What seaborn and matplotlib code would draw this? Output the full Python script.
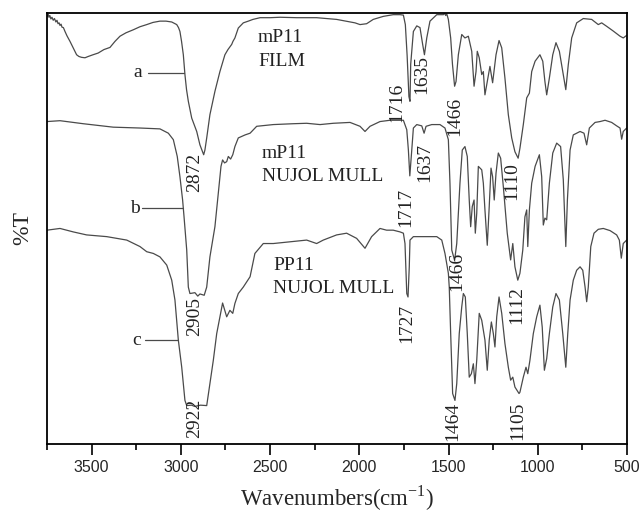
import numpy as np
import pandas as pd
import matplotlib
matplotlib.use("Agg")
import matplotlib.pyplot as plt
import seaborn as sns
from matplotlib.ticker import MultipleLocator

# ---- spectra: wavenumber (cm-1) and %T (offset traces) ----
wn_a = [3748, 3743, 3739, 3734, 3728, 3722, 3715, 3708, 3700, 3694, 3688, 3682, 3677, 3671,
        3666, 3658, 3649, 3638, 3621, 3604, 3584, 3571, 3556, 3537, 3519, 3492, 3463, 3431,
        3397, 3369, 3341, 3307, 3266, 3229, 3191, 3156, 3117, 3083, 3051, 3023, 3013, 3005,
        2996, 2986, 2977, 2968, 2958, 2939, 2911, 2893, 2872, 2865, 2855, 2837, 2809, 2781,
        2753, 2736, 2715, 2708, 2697, 2678, 2650, 2622, 2596, 2556, 2500, 2444, 2351, 2239,
        2127, 2052, 2024, 1996, 1959, 1922, 1866, 1810, 1772, 1753, 1742, 1732, 1722, 1716,
        1712, 1697, 1678, 1660, 1645, 1635, 1622, 1604, 1566, 1528, 1522, 1516, 1510, 1501,
        1488, 1478, 1466, 1458, 1445, 1426, 1408, 1389, 1370, 1357, 1346, 1339, 1328, 1314,
        1305, 1296, 1283, 1268, 1253, 1234, 1217, 1202, 1184, 1165, 1146, 1128, 1110, 1100,
        1081, 1062, 1047, 1034, 1015, 988, 972, 960, 950, 935, 916, 898, 879, 860, 843, 829,
        810, 782, 745, 698, 661, 642, 614, 577, 539, 521, 502]
t_a = [99.1, 99.6, 98.9, 99.3, 98.5, 98.9, 98.2, 98.6, 97.8, 98.2, 97.4, 97.6, 97.0, 97.3,
       96.6, 96.5, 95.6, 94.6, 93.3, 91.9, 90.2, 89.8, 89.6, 89.5, 89.8, 90.2, 90.6, 91.4,
       91.9, 93.3, 94.5, 95.3, 96.0, 96.7, 97.2, 97.7, 98.0, 98.0, 97.8, 97.2, 96.5, 95.6,
       93.3, 90.2, 85.6, 82.1, 79.4, 75.5, 72.4, 69.3, 67.0, 68.1, 70.9, 76.3, 81.7, 86.3,
       90.2, 91.4, 92.6, 93.3, 94.1, 96.4, 97.6, 98.0, 98.4, 98.8, 98.8, 98.9, 98.8, 98.8,
       98.4, 97.8, 97.6, 97.2, 97.4, 98.4, 99.1, 99.5, 99.5, 99.4, 97.2, 90.0, 80.5, 79.4,
       88.0, 95.6, 96.9, 96.5, 92.6, 90.2, 94.1, 98.0, 99.5, 99.5, 99.9, 99.3, 99.7, 98.4,
       94.1, 88.0, 82.9, 84.0, 90.2, 94.9, 94.1, 94.5, 91.0, 82.9, 86.3, 91.0, 89.5, 85.6,
       86.3, 80.9, 84.0, 87.5, 83.7, 90.2, 93.5, 91.8, 84.8, 76.3, 70.9, 67.7, 66.2, 68.5,
       74.0, 80.2, 81.3, 86.3, 88.7, 90.2, 88.7, 84.0, 80.9, 84.8, 90.2, 93.0, 91.0, 86.3,
       82.1, 87.9, 94.1, 97.6, 98.6, 98.4, 97.2, 97.6, 96.8, 95.7, 94.5, 94.1, 94.7]

wn_b = [3750, 3677, 3547, 3379, 3229, 3117, 3070, 3042, 3020, 3005, 2990, 2982, 2967, 2958,
        2949, 2921, 2905, 2893, 2869, 2855, 2837, 2809, 2790, 2775, 2766, 2755, 2743, 2734,
        2721, 2709, 2697, 2678, 2640, 2612, 2575, 2482, 2370, 2295, 2220, 2146, 2052, 1996,
        1968, 1940, 1884, 1828, 1753, 1734, 1725, 1717, 1706, 1697, 1678, 1650, 1637, 1626,
        1594, 1548, 1520, 1501, 1492, 1482, 1466, 1454, 1436, 1423, 1408, 1395, 1384, 1376,
        1367, 1357, 1350, 1342, 1333, 1314, 1305, 1296, 1283, 1272, 1262, 1253, 1244, 1234,
        1221, 1208, 1193, 1171, 1152, 1140, 1128, 1112, 1100, 1084, 1072, 1062, 1056, 1047,
        1034, 1015, 991, 978, 969, 960, 950, 935, 916, 894, 872, 857, 843, 834, 819, 801,
        763, 741, 726, 711, 679, 651, 623, 586, 558, 539, 530, 521, 502]
t_b = [74.7, 74.9, 74.2, 73.4, 73.2, 73.0, 72.0, 70.5, 66.6, 61.9, 56.5, 52.6, 44.9, 36.3,
       34.8, 35.0, 34.2, 34.7, 34.4, 36.3, 43.3, 50.3, 58.1, 64.3, 65.8, 65.1, 65.4, 66.6,
       66.0, 67.0, 68.9, 70.9, 71.6, 72.0, 73.6, 74.0, 74.2, 74.3, 74.0, 74.3, 74.5, 73.6,
       72.4, 73.6, 74.7, 75.0, 75.0, 72.8, 68.1, 62.1, 68.1, 73.2, 74.0, 73.7, 72.0, 73.6,
       74.0, 74.0, 73.2, 70.5, 60.4, 44.9, 42.5, 46.4, 60.4, 68.1, 68.9, 66.6, 56.5, 50.3,
       55.0, 56.5, 48.8, 53.4, 64.3, 63.5, 60.4, 54.2, 46.0, 55.0, 63.9, 61.9, 56.5, 62.7,
       67.4, 66.2, 59.6, 48.8, 42.6, 46.4, 41.0, 37.9, 39.5, 44.9, 52.6, 54.2, 45.7, 54.2,
       60.4, 64.3, 67.0, 61.9, 50.7, 52.3, 51.9, 60.4, 67.4, 69.7, 68.9, 61.2, 45.7, 56.5,
       68.1, 71.6, 72.4, 72.0, 69.3, 73.2, 74.5, 74.7, 75.0, 74.5, 73.7, 73.2, 70.6, 72.4,
       73.2]

wn_c = [3750, 3677, 3603, 3528, 3415, 3303, 3229, 3191, 3154, 3117, 3079, 3051, 3033, 3014,
        2995, 2977, 2967, 2940, 2922, 2890, 2855, 2837, 2818, 2799, 2781, 2766, 2743, 2725,
        2709, 2697, 2678, 2650, 2612, 2585, 2538, 2482, 2388, 2295, 2239, 2202, 2127, 2071,
        2015, 1968, 1931, 1884, 1847, 1810, 1772, 1753, 1744, 1734, 1727, 1720, 1716, 1697,
        1622, 1566, 1538, 1520, 1501, 1496, 1488, 1477, 1464, 1454, 1440, 1426, 1417, 1406,
        1395, 1384, 1372, 1361, 1352, 1342, 1328, 1314, 1296, 1283, 1272, 1260, 1249, 1240,
        1230, 1217, 1202, 1184, 1165, 1152, 1140, 1128, 1105, 1100, 1081, 1066, 1056, 1044,
        1025, 1006, 988, 975, 963, 950, 935, 916, 898, 879, 860, 843, 832, 819, 801, 782,
        763, 748, 735, 726, 717, 703, 685, 661, 633, 595, 558, 543, 532, 521, 502]
t_c = [49.5, 49.9, 49.1, 48.4, 48.0, 47.2, 45.7, 44.5, 44.1, 43.3, 41.4, 37.9, 33.3, 24.0,
       17.7, 10.0, 8.8, 8.9, 8.6, 8.9, 8.8, 13.9, 19.3, 25.5, 29.4, 32.6, 29.4, 30.9,
       30.2, 32.5, 34.8, 36.3, 38.7, 44.1, 46.4, 46.4, 46.8, 47.2, 46.4, 47.2, 48.4, 48.8,
       47.6, 45.3, 48.0, 49.9, 49.5, 49.5, 49.1, 48.8, 46.4, 34.8, 34.0, 41.0, 47.2, 48.0,
       48.0, 48.0, 47.2, 44.1, 39.5, 36.3, 25.5, 11.6, 10.0, 13.9, 25.5, 31.7, 34.8, 34.0,
       25.5, 15.4, 16.2, 18.5, 13.9, 19.3, 30.2, 28.6, 24.0, 17.0, 24.0, 28.2, 25.5, 22.4,
       29.4, 34.0, 30.2, 23.2, 17.7, 14.7, 15.4, 13.1, 11.6, 11.9, 15.4, 17.7, 16.2, 19.3,
       25.5, 29.4, 32.1, 27.0, 17.0, 19.7, 25.5, 31.7, 34.8, 33.3, 25.5, 17.7, 25.5, 33.3,
       37.9, 40.2, 41.0, 40.2, 36.3, 32.9, 36.3, 45.7, 48.8, 49.7, 49.9, 49.4, 48.4, 47.2,
       43.0, 46.4, 47.2]

# peak labels: text, x (cm-1), y (%T)
peak_text = ["2872", "1716", "1635", "1466", "1110",
             "2905", "1717", "1637", "1466", "1112",
             "2922", "1727", "1464", "1105"]
peak_x = [2921, 1789, 1649, 1464, 1144,
          2921, 1738, 1632, 1453, 1116,
          2921, 1733, 1475, 1111]
peak_y = [62.8, 79.1, 85.6, 76.0, 60.9,
          29.5, 54.9, 65.3, 40.0, 32.1,
          5.8, 27.9, 5.1, 5.3]

# sample descriptions
sample_line1 = ["mP11", "mP11", "PP11"]
sample_line2 = ["FILM", "NUJOL MULL", "NUJOL MULL"]
sample_x = [2568, 2545, 2484]
sample_y1 = [94.2, 67.4, 41.4]
sample_y2 = [88.6, 61.9, 36.0]

# trace letters with leader lines
letters = ["a", "b", "c"]
letter_x = [3240, 3257, 3247]
letter_y = [86.0, 54.6, 24.0]
leader_x0 = [3184, 3219, 3201]
leader_x1 = [2982, 2986, 3016]

sns.set_style("ticks")
plt.rcParams["font.family"] = ["Liberation Serif", "DejaVu Serif"]

fig = plt.figure(figsize=(6.4, 5.15), dpi=100)
ax = fig.add_axes([0.0734, 0.1388, 0.9063, 0.8369])

line_color = "#4a4a4a"
frames = [pd.DataFrame({"wn": w, "T": t}) for w, t in [(wn_a, t_a), (wn_b, t_b), (wn_c, t_c)]]
for df in frames:
    sns.lineplot(data=df, x="wn", y="T", sort=False, ax=ax, color=line_color,
                 linewidth=0.9, estimator=None)

ax.set_xlim(3750, 500)
ax.set_ylim(0, 100)
ax.xaxis.set_major_locator(MultipleLocator(500))
ax.xaxis.set_minor_locator(MultipleLocator(250))
ax.set_yticks([])
ax.tick_params(axis="x", which="major", direction="out", length=8, width=1.2,
               labelsize=11.5, pad=4, color="black")
ax.tick_params(axis="x", which="minor", direction="out", length=4, width=1.2, color="black")
for lab in ax.get_xticklabels():
    lab.set_family(["Liberation Sans", "DejaVu Sans"])
for sp in ax.spines.values():
    sp.set_visible(True)
    sp.set_linewidth(1.3)
    sp.set_color("black")

ax.set_xlabel("Wavenumbers(cm$^{\\mathregular{-1}}$)", fontsize=16.5, labelpad=6)
ax.set_ylabel("%T", fontsize=17, labelpad=10)

for txt, x, y in zip(peak_text, peak_x, peak_y):
    ax.text(x, y, txt, rotation=90, ha="center", va="center", fontsize=14, color="#222222")

for l1, l2, x, y1, y2 in zip(sample_line1, sample_line2, sample_x, sample_y1, sample_y2):
    ax.text(x, y1, l1, ha="left", va="center", fontsize=14, color="#222222")
    ax.text(x, y2, l2, ha="left", va="center", fontsize=14, color="#222222")

for lt, x, y, x0, x1 in zip(letters, letter_x, letter_y, leader_x0, leader_x1):
    ax.text(x, y, lt, ha="center", va="center", fontsize=14, color="#222222")
    ax.plot([x0, x1], [y, y], color=line_color, linewidth=0.9)

fig.savefig("out.png", dpi=100)
